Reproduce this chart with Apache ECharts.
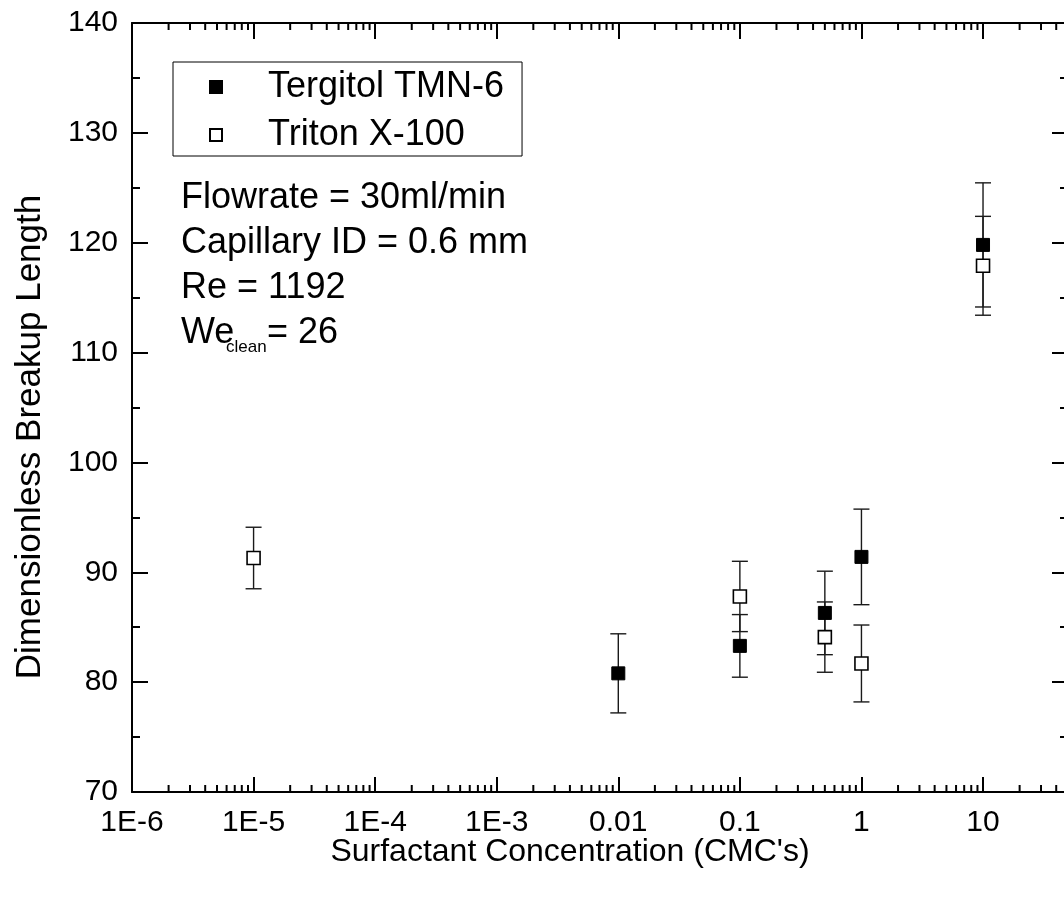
<!DOCTYPE html>
<html>
<head>
<meta charset="utf-8">
<script src="https://cdn.jsdelivr.net/npm/echarts@6/dist/echarts.min.js"></script>
<style>
  html, body { margin: 0; padding: 0; background: #fff; }
  #chart { width: 1064px; height: 901px; }
</style>
</head>
<body>
<div id="chart"></div>
<script>
// Breakup length vs. surfactant concentration, two surfactants, with error bars
const tergitolConc = [0.01, 0.1, 0.5, 1, 10];
const tergitolLen  = [80.8, 83.3, 86.3, 91.4, 119.8];
const tergitolErr  = [3.6, 2.85, 3.8, 4.35, 5.65];

const tritonConc = [1e-5, 0.1, 0.5, 1, 10];
const tritonLen  = [91.3, 87.8, 84.1, 81.7, 117.9];
const tritonErr  = [2.8, 3.2, 3.2, 3.5, 4.5];

const xTickValues = [1e-6, 1e-5, 1e-4, 1e-3, 0.01, 0.1, 1, 10];
const xTickLabels = ['1E-6', '1E-5', '1E-4', '1E-3', '0.01', '0.1', '1', '10'];
const xMinorMultipliers = [2, 3, 4, 5, 6, 7, 8, 9];

const X_MIN = 1e-6, X_MAX = 50;
const Y_MIN = 70, Y_MAX = 140;

const FONT = "'Liberation Sans', Arial, Helvetica, sans-serif";

// minor tick positions of the log axis (2..9 within each decade)
const xMinorTicks = [];
xTickValues.forEach(function (d) {
  xMinorMultipliers.forEach(function (m) {
    const v = d * m;
    if (v < X_MAX) xMinorTicks.push([v]);
  });
});

function errorRows(xs, ys, es) {
  return xs.map(function (x, i) { return [x, ys[i] - es[i], ys[i] + es[i]]; });
}
function points(xs, ys) {
  return xs.map(function (x, i) { return [x, ys[i]]; });
}

function renderErrorBar(params, api) {
  const x = api.value(0);
  const lo = api.coord([x, api.value(1)]);
  const hi = api.coord([x, api.value(2)]);
  const half = 8;
  const st = { stroke: '#1a1a1a', lineWidth: 1.4 };
  return {
    type: 'group',
    children: [
      { type: 'line', shape: { x1: hi[0], y1: hi[1], x2: lo[0], y2: lo[1] }, style: st },
      { type: 'line', shape: { x1: hi[0] - half, y1: hi[1], x2: hi[0] + half, y2: hi[1] }, style: st },
      { type: 'line', shape: { x1: lo[0] - half, y1: lo[1], x2: lo[0] + half, y2: lo[1] }, style: st }
    ]
  };
}

function renderMinorTick(params, api) {
  const v = api.value(0);
  const b = api.coord([v, Y_MIN]);
  const t = api.coord([v, Y_MAX]);
  const len = 7;
  const st = { stroke: '#000', lineWidth: 2 };
  return {
    type: 'group',
    children: [
      { type: 'line', shape: { x1: b[0], y1: b[1], x2: b[0], y2: b[1] - len }, style: st },
      { type: 'line', shape: { x1: t[0], y1: t[1], x2: t[0], y2: t[1] + len }, style: st }
    ]
  };
}

function xLabel(v) {
  const lv = Math.log10(v);
  for (let i = 0; i < xTickValues.length; i++) {
    if (Math.abs(lv - Math.log10(xTickValues[i])) < 1e-6) return xTickLabels[i];
  }
  return '';
}

const axisLine = { show: true, onZero: false, lineStyle: { color: '#000', width: 2 } };

const chart = echarts.init(document.getElementById('chart'), null, { renderer: 'canvas' });

chart.setOption({
  animation: false,
  backgroundColor: '#fff',
  grid: { left: 132, top: 23, width: 936, height: 769, containLabel: false, outerBoundsMode: 'none' },
  legend: {
    data: ['Tergitol TMN-6', 'Triton X-100'],
    orient: 'vertical',
    left: 173,
    top: 62,
    icon: 'rect',
    itemWidth: 12,
    itemHeight: 12,
    itemGap: 12,
    padding: [7, 18, 3, 36],
    borderColor: '#000',
    borderWidth: 1,
    textStyle: { fontFamily: FONT, fontSize: 36, color: '#000', padding: [0, 0, 0, 41] }
  },
  xAxis: [
    {
      type: 'log', logBase: 10, min: X_MIN, max: X_MAX, position: 'bottom',
      axisLine: axisLine,
      axisTick: { show: true, inside: true, length: 15, lineStyle: { color: '#000', width: 2 } },
      axisLabel: { fontFamily: FONT, fontSize: 30, color: '#000', margin: 16, formatter: xLabel, showMaxLabel: false },
      splitLine: { show: false }
    },
    {
      type: 'log', logBase: 10, min: X_MIN, max: X_MAX, position: 'top',
      axisLine: axisLine,
      axisTick: { show: true, inside: true, length: 16, lineStyle: { color: '#000', width: 2 } },
      axisLabel: { show: false },
      splitLine: { show: false }
    }
  ],
  yAxis: [
    {
      type: 'value', min: Y_MIN, max: Y_MAX, interval: 10, position: 'left',
      axisLine: axisLine,
      axisTick: { show: true, inside: true, length: 16, lineStyle: { color: '#000', width: 2 } },
      minorTick: { show: true, splitNumber: 2, length: 8, lineStyle: { color: '#000', width: 2 } },
      axisLabel: { fontFamily: FONT, fontSize: 30, color: '#000', margin: 14 },
      splitLine: { show: false }
    },
    {
      type: 'value', min: Y_MIN, max: Y_MAX, interval: 10, position: 'right',
      axisLine: axisLine,
      axisTick: { show: true, inside: true, length: 16, lineStyle: { color: '#000', width: 2 } },
      minorTick: { show: true, splitNumber: 2, length: 8, lineStyle: { color: '#000', width: 2 } },
      axisLabel: { show: false },
      splitLine: { show: false }
    }
  ],
  series: [
    {
      name: 'minor ticks', type: 'custom', renderItem: renderMinorTick,
      data: xMinorTicks, silent: true, z: 1, legendHoverLink: false
    },
    {
      name: 'Tergitol error', type: 'custom', renderItem: renderErrorBar,
      data: errorRows(tergitolConc, tergitolLen, tergitolErr), z: 2, silent: true
    },
    {
      name: 'Triton error', type: 'custom', renderItem: renderErrorBar,
      data: errorRows(tritonConc, tritonLen, tritonErr), z: 2, silent: true
    },
    {
      name: 'Tergitol TMN-6', type: 'scatter', symbol: 'rect', symbolSize: 13,
      data: points(tergitolConc, tergitolLen), z: 5,
      itemStyle: { color: '#000', borderColor: '#000', borderWidth: 1, opacity: 1 }
    },
    {
      name: 'Triton X-100', type: 'scatter', symbol: 'rect', symbolSize: 13,
      data: points(tritonConc, tritonLen), z: 5,
      itemStyle: { color: '#fff', borderColor: '#000', borderWidth: 1.6, opacity: 1 }
    }
  ],
  graphic: [
    { type: 'text', x: 570, y: 852, style: { text: "Surfactant Concentration (CMC's)", fontFamily: FONT, fontSize: 32, fill: '#000', align: 'center', verticalAlign: 'middle' } },
    { type: 'text', x: 30, y: 437, rotation: Math.PI / 2, style: { text: 'Dimensionless Breakup Length', fontFamily: FONT, fontSize: 35, fill: '#000', align: 'center', verticalAlign: 'middle' } },
    { type: 'text', x: 181, y: 198, style: { text: 'Flowrate = 30ml/min', fontFamily: FONT, fontSize: 36, fill: '#000', align: 'left', verticalAlign: 'middle' } },
    { type: 'text', x: 181, y: 243, style: { text: 'Capillary ID = 0.6 mm', fontFamily: FONT, fontSize: 36, fill: '#000', align: 'left', verticalAlign: 'middle' } },
    { type: 'text', x: 181, y: 288, style: { text: 'Re = 1192', fontFamily: FONT, fontSize: 36, fill: '#000', align: 'left', verticalAlign: 'middle' } },
    { type: 'text', x: 181, y: 333, style: { text: 'We', fontFamily: FONT, fontSize: 36, fill: '#000', align: 'left', verticalAlign: 'middle' } },
    { type: 'text', x: 226, y: 347, style: { text: 'clean', fontFamily: FONT, fontSize: 17, fill: '#000', align: 'left', verticalAlign: 'middle' } },
    { type: 'text', x: 267, y: 333, style: { text: '= 26', fontFamily: FONT, fontSize: 36, fill: '#000', align: 'left', verticalAlign: 'middle' } }
  ]
});
</script>
</body>
</html>
